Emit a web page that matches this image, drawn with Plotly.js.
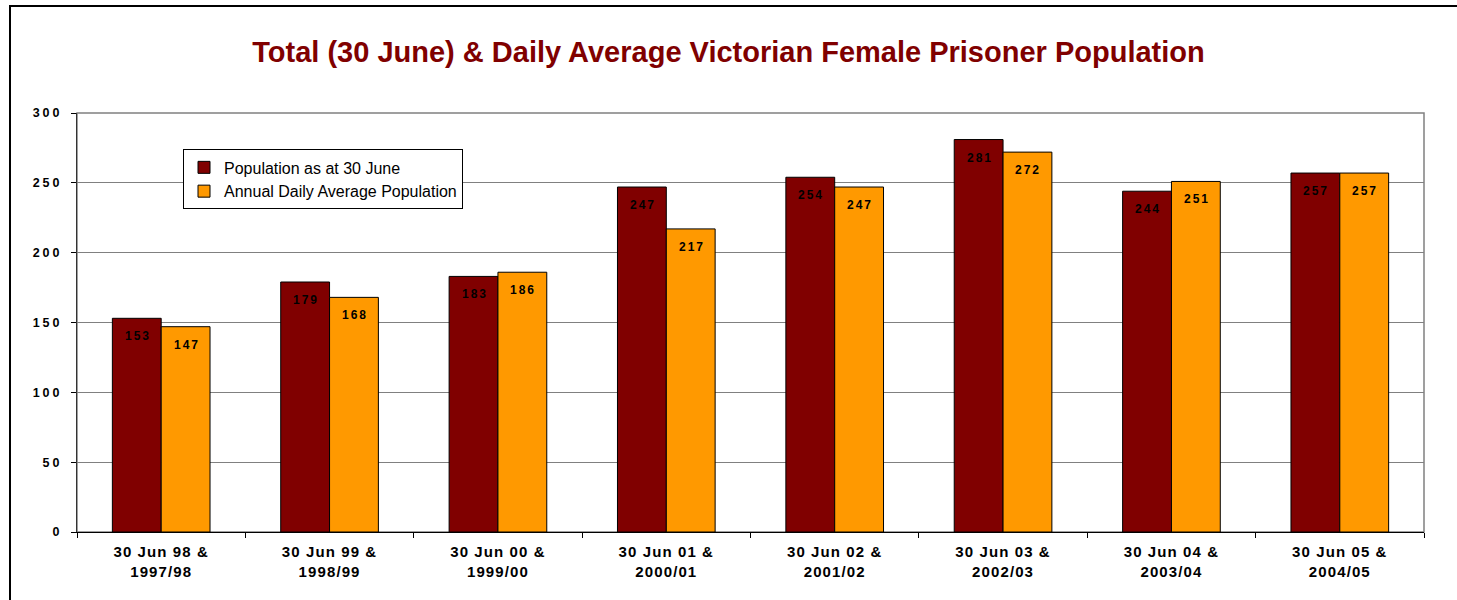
<!DOCTYPE html>
<html>
<head>
<meta charset="utf-8">
<script src="https://cdn.plot.ly/plotly-3.0.1.min.js"></script>
<style>
  html, body { margin: 0; padding: 0; background: #fff; }
  #wrap { position: relative; width: 1457px; height: 600px; overflow: hidden; }
  #chart { position: absolute; left: 0; top: 0; width: 1457px; height: 600px; }
  #frame { position: absolute; left: 9px; top: 5px; width: 1500px; height: 700px;
           border-left: 2px solid #000; border-top: 2px solid #000; pointer-events: none; }
  .xtick text { letter-spacing: 1.1px; }
  .ytick text { letter-spacing: 3px; }
  .annotation-text { letter-spacing: 2px; }
</style>
</head>
<body>
<div id="wrap">
  <div id="chart"></div>
  <div id="frame"></div>
</div>
<script>
const categories = [
  "30 Jun 98 &<br>1997/98",
  "30 Jun 99 &<br>1998/99",
  "30 Jun 00 &<br>1999/00",
  "30 Jun 01 &<br>2000/01",
  "30 Jun 02 &<br>2001/02",
  "30 Jun 03 &<br>2002/03",
  "30 Jun 04 &<br>2003/04",
  "30 Jun 05 &<br>2004/05"
];
const populationAt30June = [153, 179, 183, 247, 254, 281, 244, 257];
const annualDailyAverage = [147, 168, 186, 217, 247, 272, 251, 257];
const seriesNames = ["Population as at 30 June", "Annual Daily Average Population"];
const yTickValues = [0, 50, 100, 150, 200, 250, 300];

const FONT = "Liberation Sans, Arial, sans-serif";
const W = 1457, H = 600;
const margin = { l: 77, r: 33, t: 113, b: 68, pad: 0 };
const bargap = 0.42;
const plotW = W - margin.l - margin.r;
const barPx = plotW / categories.length * (1 - bargap) / 2;

const traces = [
  {
    type: "bar", name: seriesNames[0], x: categories, y: populationAt30June,
    marker: { color: "#800000", line: { color: "#000", width: 1 } },
    hoverinfo: "none"
  },
  {
    type: "bar", name: seriesNames[1], x: categories, y: annualDailyAverage,
    marker: { color: "#FF9900", line: { color: "#000", width: 1 } },
    hoverinfo: "none"
  }
];

const annotations = [];
[populationAt30June, annualDailyAverage].forEach((series, si) => {
  series.forEach((v, i) => {
    annotations.push({
      x: categories[i], y: v, xref: "x", yref: "y",
      text: String(v), showarrow: false,
      xanchor: "center", yanchor: "top",
      xshift: (si === 0 ? -1 : 1) * barPx / 2 + 1, yshift: -9,
      font: { family: FONT, size: 12, color: "#000", weight: "bold" }
    });
  });
});

const layout = {
  width: W, height: H,
  margin: margin,
  paper_bgcolor: "rgba(0,0,0,0)", plot_bgcolor: "#fff",
  font: { family: FONT, color: "#000" },
  title: {
    text: "Total (30 June) & Daily Average Victorian Female Prisoner Population",
    font: { family: FONT, size: 29, color: "#800000", weight: "bold" },
    x: 0.5, xanchor: "center", y: 0.913, yanchor: "middle"
  },
  barmode: "group", bargap: bargap, bargroupgap: 0,
  showlegend: true,
  legend: {
    x: 0.0787, y: 0.913, xanchor: "left", yanchor: "top",
    bgcolor: "#fff", bordercolor: "#000", borderwidth: 1,
    font: { family: FONT, size: 16, color: "#000" },
    itemwidth: 30, tracegroupgap: 0, traceorder: "normal"
  },
  xaxis: {
    type: "category", showgrid: false, showline: true, linecolor: "#000", linewidth: 1,
    ticks: "outside", tickson: "boundaries", ticklen: 5, tickcolor: "#000",
    ticklabelstandoff: 6,
    tickfont: { family: FONT, size: 15, color: "#000", weight: "bold" },
    zeroline: false, fixedrange: true
  },
  yaxis: {
    range: [0, 300], tickvals: yTickValues, ticktext: yTickValues.map(String),
    showgrid: true, gridcolor: "#808080", gridwidth: 1,
    showline: true, linecolor: "#333", linewidth: 1,
    ticks: "outside", ticklen: 5, tickcolor: "#000",
    ticklabelstandoff: 6,
    tickfont: { family: FONT, size: 12.5, color: "#000", weight: "bold" },
    zeroline: false, fixedrange: true
  },
  annotations: annotations,
  shapes: [
    { type: "rect", xref: "paper", yref: "paper", x0: 0, x1: 1, y0: 0, y1: 1,
      line: { color: "#808080", width: 1.5 }, fillcolor: "rgba(0,0,0,0)", layer: "below" }
  ]
};

Plotly.newPlot("chart", traces, layout, { displayModeBar: false, staticPlot: true });
</script>
</body>
</html>
